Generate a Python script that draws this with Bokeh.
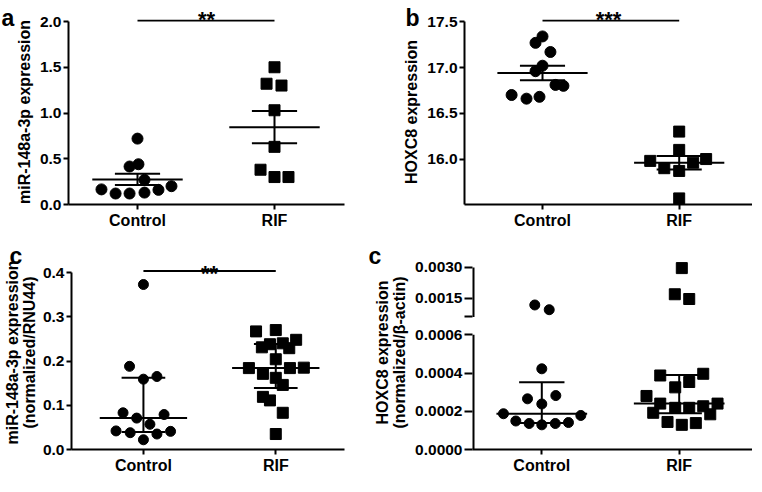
import numpy as np
from bokeh.plotting import figure
from bokeh.models import Range1d, FixedTicker, ColumnDataSource, Title
from bokeh.layouts import row, column
from bokeh.embed import file_html
from bokeh.resources import INLINE
from bokeh.core.properties import value

FONT = "Liberation Sans"

groups = ["Control", "RIF"]

# ---------- panel a : miR-148a-3p expression (mean +/- SEM) ----------
a_ctrl = [0.72, 0.44, 0.415, 0.27, 0.20, 0.165, 0.16, 0.13, 0.12, 0.12]
a_rif = [1.50, 1.32, 1.30, 1.03, 0.63, 0.38, 0.30, 0.30]
a_ticks = [0.0, 0.5, 1.0, 1.5, 2.0]
a_sig = "**"

# ---------- panel b : HOXC8 expression (mean +/- SEM) ----------
b_ctrl = [17.34, 17.27, 17.17, 17.02, 16.96, 16.81, 16.80, 16.70, 16.68, 16.66]
b_rif = [16.30, 16.10, 16.00, 15.98, 15.96, 15.90, 15.87, 15.57]
b_ticks = [15.5, 16.0, 16.5, 17.0, 17.5]
b_sig = "***"

# ---------- panel c : miR-148a-3p normalized/RNU44 (median, IQR) ----------
c_ctrl = [0.373, 0.188, 0.165, 0.159, 0.083, 0.079, 0.071, 0.057, 0.042, 0.041,
          0.038, 0.035, 0.022]
c_rif = [0.270, 0.267, 0.248, 0.240, 0.238, 0.231, 0.229, 0.204, 0.185, 0.184,
         0.184, 0.171, 0.162, 0.146, 0.119, 0.111, 0.083, 0.035]
c_ticks = [0.0, 0.1, 0.2, 0.3, 0.4]
c_sig = "**"

# ---------- panel d : HOXC8 normalized/beta-actin (median, IQR), broken axis ----------
d_ctrl = [0.00118, 0.00095, 0.000422, 0.000282, 0.000265, 0.000238, 0.000187,
          0.000178, 0.000149, 0.000141, 0.000136, 0.000136, 0.000129]
d_rif = [0.00297, 0.00170, 0.00147, 0.000396, 0.000387, 0.000353, 0.000325,
         0.000280, 0.000240, 0.000240, 0.000226, 0.000218, 0.000218, 0.000192,
         0.000184, 0.000144, 0.000138, 0.000129]
d_low_ticks = [0.0, 0.0002, 0.0004, 0.0006]
d_up_ticks = [0.0015, 0.0030]
d_break = 0.0006

panel_letters = ["a", "b", "c", "c"]

# horizontal scatter (beeswarm) offsets, in category units -- layout only
a_ctrl_dx = [0, 0.007, -0.058, 0.051, 0.248, -0.263, 0.153, 0.051, -0.16, -0.058]
a_rif_dx = [0, -0.058, 0.051, 0, 0, -0.102, 0, 0.102]
b_ctrl_dx = [0, -0.051, 0.058, 0, -0.051, 0.095, 0.153, -0.226, -0.022, -0.117]
b_rif_dx = [0, 0, 0.197, -0.212, 0.102, -0.109, 0, 0]
c_ctrl_dx = [0, -0.105, 0.102, 0, -0.154, 0.156, -0.051, 0.049, -0.207, 0.205, -0.1, 0.102, 0]
c_rif_dx = [0, -0.149, 0.154, 0.053, -0.044, -0.105, 0.102, 0, 0.212, -0.203, 0.107,
            -0.097, 0, 0.053, -0.097, -0.044, 0.053, 0]
d_ctrl_dx = [-0.051, 0.054, 0, 0.102, -0.104, 0, -0.279, 0.284, -0.189, 0.194, -0.092, 0.098, 0]
d_rif_dx = [0.019, -0.032, 0.073, 0.175, -0.138, 0.073, -0.029, -0.238, -0.138, 0.279,
            0.175, -0.029, 0.073, -0.189, 0.226, -0.085, 0.121, 0.019]

TICK_FS = "15.5px"
LAB_FS = "16px"
XLAB_FS = "16px"
LETTER_FS = "23px"
STAR_FS = "22px"
LW = 2


def mean_sem(v):
    v = np.asarray(v, float)
    m = v.mean()
    s = v.std(ddof=1) / np.sqrt(len(v))
    return m, m - s, m + s


def median_iqr(v):
    v = np.asarray(v, float)
    return (np.median(v), np.percentile(v, 25, method="weibull"),
            np.percentile(v, 75, method="weibull"))


def style_title(t, size):
    t.text_font = FONT
    t.text_font_style = "bold"
    t.text_font_size = size
    t.text_color = "black"


def make_fig(width, height, fl, fr, ft, fb, cx, ya, yb, letter, letter_x):
    unit = cx[1] - cx[0]
    xr = Range1d(1 - (cx[0] - fl) / unit, 2 + (fr - cx[1]) / unit)
    ppu = (ya[1] - yb[1]) / (yb[0] - ya[0])
    yr = Range1d(ya[0] - (fb - ya[1]) / ppu, yb[0] + (yb[1] - ft) / ppu)
    p = figure(width=width, height=height, x_range=xr, y_range=yr,
               output_backend="svg", toolbar_location=None,
               min_border_left=int(fl), min_border_right=int(width - fr),
               min_border_top=int(ft), min_border_bottom=int(height - fb))
    p.xgrid.visible = False
    p.ygrid.visible = False
    p.outline_line_color = None
    # panel letter as the figure title, pulled into the top-left corner
    p.title.text = letter
    p.title.align = "left"
    p.title.offset = letter_x - fl
    p.title.standoff = -27
    style_title(p.title, LETTER_FS)
    xa = p.xaxis[0]
    xa.ticker = FixedTicker(ticks=[1, 2])
    xa.major_label_overrides = {1: groups[0], 2: groups[1]}
    xa.axis_line_width = LW
    xa.major_tick_line_width = LW
    xa.major_tick_out = 5
    xa.major_tick_in = 0
    xa.minor_tick_out = 0
    xa.major_label_standoff = 2
    xa.major_label_text_font = FONT
    xa.major_label_text_font_style = "bold"
    xa.major_label_text_font_size = XLAB_FS
    xa.major_label_text_color = "black"
    ya_ = p.yaxis[0]
    ya_.axis_line_width = LW
    ya_.major_tick_line_width = LW
    ya_.major_tick_out = 5
    ya_.major_tick_in = 0
    ya_.minor_tick_out = 0
    ya_.minor_tick_in = 0
    ya_.major_label_standoff = 2
    ya_.major_label_text_font = FONT
    ya_.major_label_text_font_style = "bold"
    ya_.major_label_text_font_size = TICK_FS
    ya_.major_label_text_color = "black"
    ya_.axis_label_text_font = FONT
    ya_.axis_label_text_font_style = "bold"
    ya_.axis_label_text_font_size = LAB_FS
    ya_.axis_label_text_color = "black"
    ya_.axis_label_text_line_height = 1.0
    ya_.axis_label_standoff = 4
    return p


def add_points(p, vals, dxs, gx, marker, size, **kw):
    src = ColumnDataSource(dict(x=[gx + d for d in dxs], y=vals))
    p.scatter("x", "y", source=src, marker=marker, size=size, color="black", **kw)


def add_summary(p, stats, half=0.33, cap=0.165):
    xs0, xs1, ys0, ys1 = [], [], [], []
    for gx, (c, lo, hi) in zip([1, 2], stats):
        xs0 += [gx - half, gx - cap, gx - cap, gx]
        xs1 += [gx + half, gx + cap, gx + cap, gx]
        ys0 += [c, lo, hi, lo]
        ys1 += [c, lo, hi, hi]
    src = ColumnDataSource(dict(x0=xs0, x1=xs1, y0=ys0, y1=ys1))
    p.segment("x0", "y0", "x1", "y1", source=src, line_color="black", line_width=LW)


def add_sig(p, y, text, as_title=False):
    src = ColumnDataSource(dict(x0=[1], x1=[2], y=[y]))
    p.segment("x0", "y", "x1", "y", source=src, line_color="black", line_width=LW)
    if as_title:
        t = Title(text=text, align="center", standoff=-25)
        style_title(t, STAR_FS)
        p.add_layout(t, "above")
    else:
        tsrc = ColumnDataSource(dict(x=[1.5], y=[y], t=[text]))
        p.text("x", "y", text="t", source=tsrc, text_align="center",
               text_baseline="alphabetic", text_font=value(FONT), text_font_style="bold",
               text_font_size=STAR_FS, text_color="black", y_offset=2)


# ----- panel a -----
pa = make_fig(372, 240, 68, 344, 19, 204, (137, 274), (0.0, 204), (2.0, 21), panel_letters[0], 1)
pa.yaxis[0].ticker = FixedTicker(ticks=a_ticks)
pa.yaxis[0].bounds = (a_ticks[0], a_ticks[-1])
pa.yaxis[0].major_label_overrides = {t: f"{t:.1f}" for t in a_ticks}
pa.yaxis[0].axis_label = "miR-148a-3p expression"
add_summary(pa, [mean_sem(a_ctrl), mean_sem(a_rif)])
add_points(pa, a_ctrl, a_ctrl_dx, 1, "circle", 11)
add_points(pa, a_rif, a_rif_dx, 2, "square", 11)
add_sig(pa, a_ticks[-1] + 0.01, a_sig, as_title=True)

# ----- panel b -----
pb = make_fig(380, 240, 92, 380, 19, 204, (170, 306.7), (15.5, 204.3), (17.5, 21.3), panel_letters[1], 33)
pb.yaxis[0].ticker = FixedTicker(ticks=b_ticks)
pb.yaxis[0].bounds = (b_ticks[0], b_ticks[-1])
pb.yaxis[0].major_label_overrides = {t: f"{t:.1f}" for t in b_ticks}
pb.yaxis[0].axis_label = "HOXC8 expression"
add_summary(pb, [mean_sem(b_ctrl), mean_sem(b_rif)])
add_points(pb, b_ctrl, b_ctrl_dx, 1, "circle", 11)
add_points(pb, b_rif, b_rif_dx, 2, "square", 11)
add_sig(pb, b_ticks[-1] + 0.015, b_sig, as_title=True)

# ----- panel c -----
pc = make_fig(366, 236, 62, 344, 15, 214, (136.3, 273), (0.0, 214), (0.4, 32.5), panel_letters[2], 0)
pc.yaxis[0].ticker = FixedTicker(ticks=c_ticks)
pc.yaxis[0].bounds = (c_ticks[0], c_ticks[-1])
pc.yaxis[0].major_label_overrides = {t: f"{t:.1f}" for t in c_ticks}
pc.yaxis[0].axis_label = "miR-148a-3p expression\n(normalized/RNU44)"
pc.yaxis[0].axis_label_standoff = 2
add_summary(pc, [median_iqr(c_ctrl), median_iqr(c_rif)])
add_points(pc, c_ctrl, c_ctrl_dx, 1, "circle", 10)
add_points(pc, c_rif, c_rif_dx, 2, "square", 11)
add_sig(pc, c_ticks[-1] + 0.0035, c_sig)

# ----- panel d (broken y axis) -----
W, H, FL, FR, FT, FB = 386, 236, 106, 386, 15, 214
LOW_PX, GAP_PX, UP_PX = 117.7, 18.3, 50.7
UP_TOP = d_up_ticks[-1]
py_low_top = FB - LOW_PX
py_up_bot = py_low_top - GAP_PX
pd_ = make_fig(W, H, FL, FR, FT, FB, (175.3, 312.7), (0.0, FB), (d_break, py_low_top), panel_letters[3], 2)
up_span = UP_TOP - d_break
pd_.extra_y_ranges = {"upper": Range1d(d_break - (FB - py_up_bot) / UP_PX * up_span,
                                       d_break + (py_up_bot - FT) / UP_PX * up_span)}


def upper_to_main(v):
    px = py_up_bot - (v - d_break) / up_span * UP_PX
    return (FB - px) / LOW_PX * d_break


up_main = [upper_to_main(v) for v in [d_break] + d_up_ticks]
ticks_d = d_low_ticks + up_main
labels_d = [f"{t:.4f}" for t in d_low_ticks] + [""] + [f"{t:.4f}" for t in d_up_ticks]
yd = pd_.yaxis[0]
yd.ticker = FixedTicker(ticks=ticks_d)
yd.bounds = (0, up_main[-1])
yd.major_label_overrides = dict(zip(ticks_d, labels_d))
yd.axis_line_color = None
yd.major_tick_out = 8
yd.axis_label = "HOXC8 expression\n(normalized/\u03b2-actin)"
x0 = pd_.x_range.start
pd_.segment([x0], [0], [x0], [d_break], line_color="black", line_width=4)
pd_.segment([x0], [d_break], [x0], [UP_TOP], line_color="black", line_width=4,
            y_range_name="upper")
add_summary(pd_, [median_iqr(d_ctrl), median_iqr(d_rif)])
for vals, dxs, gx, mk, sz in [(d_ctrl, d_ctrl_dx, 1, "circle", 10), (d_rif, d_rif_dx, 2, "square", 11)]:
    lo = [(v, d) for v, d in zip(vals, dxs) if v <= d_break]
    hi = [(v, d) for v, d in zip(vals, dxs) if v > d_break]
    add_points(pd_, [v for v, _ in lo], [d for _, d in lo], gx, mk, sz)
    add_points(pd_, [v for v, _ in hi], [d for _, d in hi], gx, mk, sz, y_range_name="upper")

layout = column(row(pa, pb), row(pc, pd_))
open("out.html", "w").write(file_html(layout, INLINE))
